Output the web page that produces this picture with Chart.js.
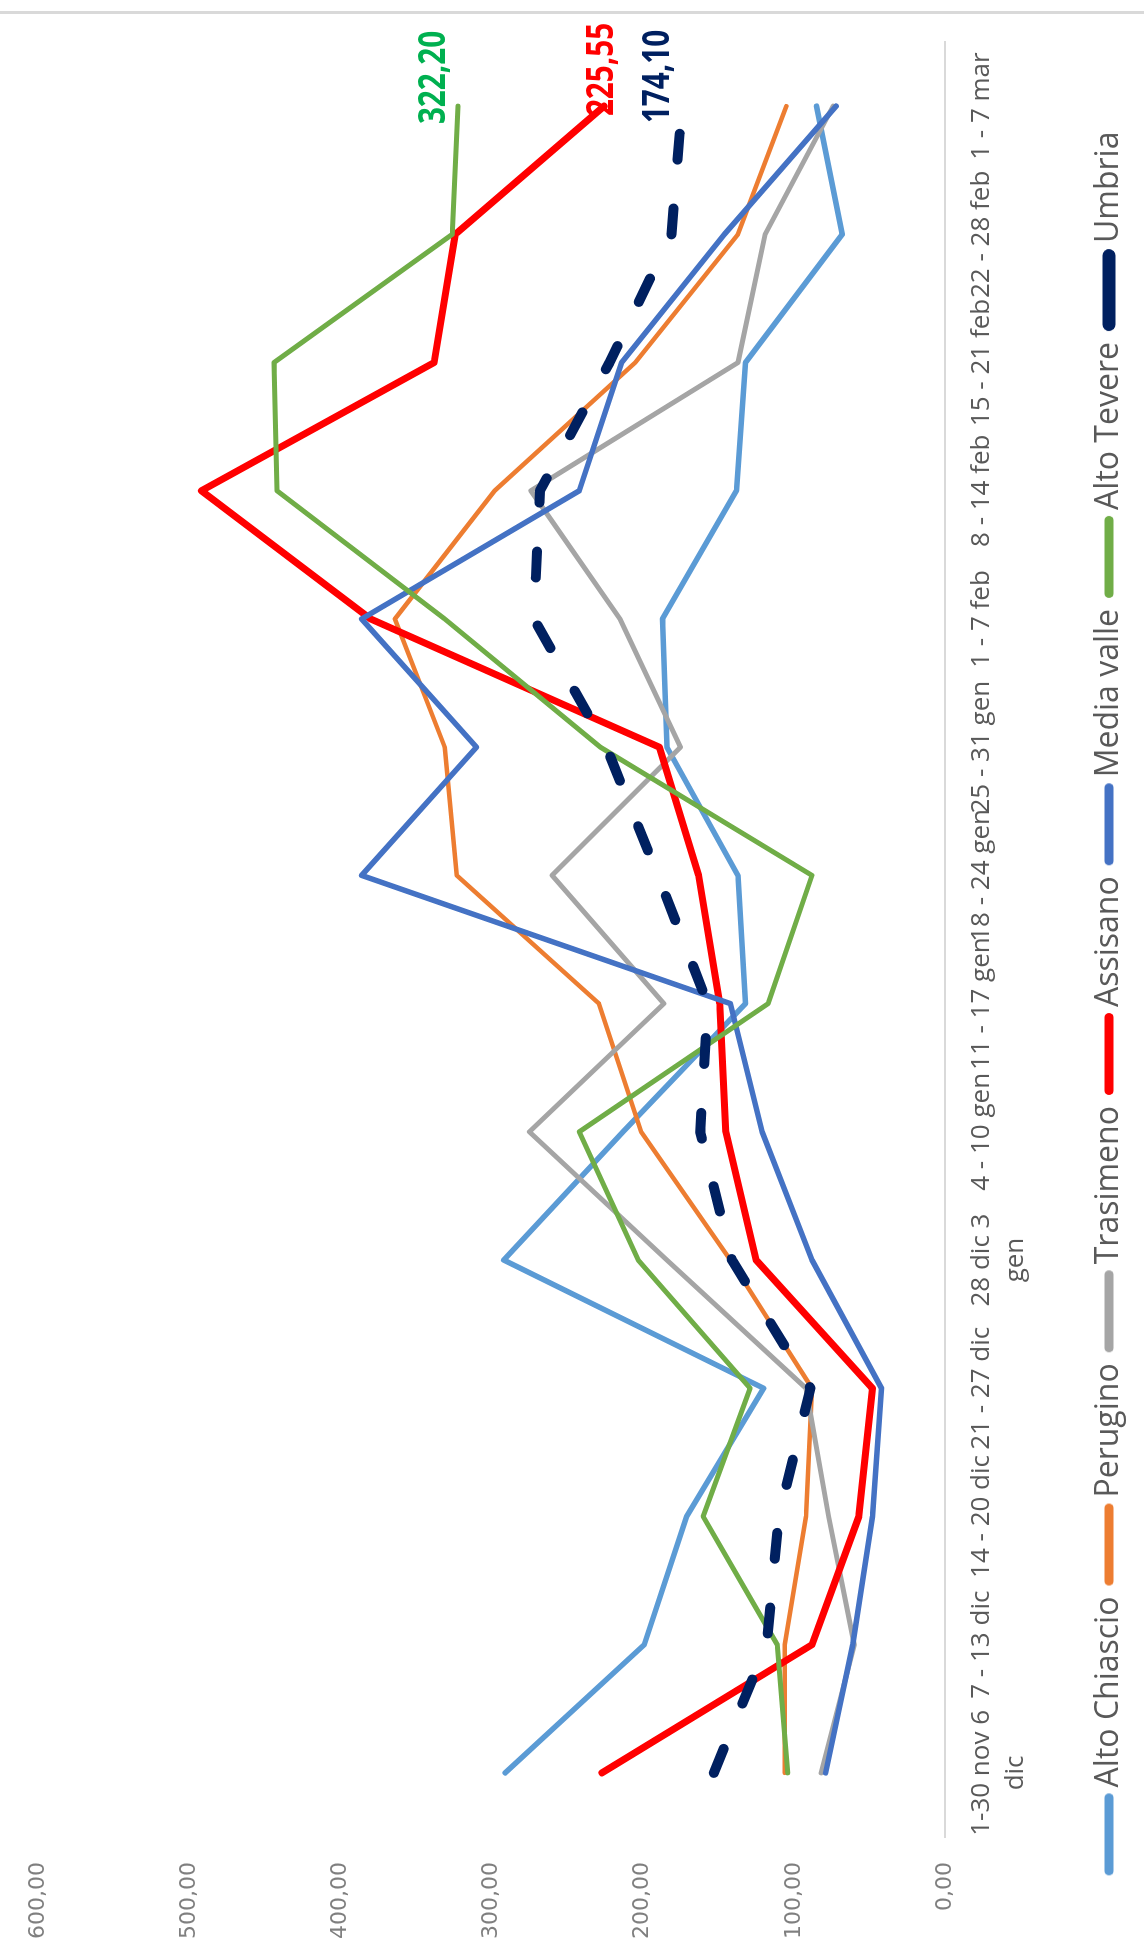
<!DOCTYPE html>
<html>
<head>
<meta charset="utf-8">
<script src="https://cdn.jsdelivr.net/npm/chart.js@4.4.1/dist/chart.umd.min.js"></script>
<style>
  html, body { margin: 0; padding: 0; background: #fff; width: 1144px; height: 1955px; overflow: hidden; }
  #frame { position: absolute; left: 0; right: 0; top: 11px; height: 3px; background: #d9d9d9; }
  #wrap {
    position: absolute; left: 0; top: 0; width: 1955px; height: 1144px;
    transform-origin: 0 0; transform: translateY(1955px) rotate(-90deg);
  }
</style>
</head>
<body>
<div id="frame"></div>
<div id="wrap"><canvas id="chart" width="1955" height="1144"></canvas></div>
<script>
// weeks (category axis)
const weeks = [
  ["1-30 nov 6", "dic"], "7 - 13 dic", "14 - 20 dic", "21 - 27 dic", ["28 dic 3", "gen"],
  "4 - 10 gen", "11 - 17 gen", "18 - 24 gen", "25 - 31 gen", "1 - 7 feb",
  "8 - 14 feb", "15 - 21 feb", "22 - 28 feb", "1 - 7 mar"
];

// values
const altoChiascio = [291, 199, 171, 120, 292, 213, 132, 137, 184, 187, 138, 132, 68, 85];
const perugino     = [106, 106, 92, 88, 142, 201, 229, 323, 331, 364, 298, 205, 137, 105];
const trasimeno    = [82, 60, 77, 92, 184, 275, 186, 260, 175, 215, 274, 137, 119, 74];
const assisano     = [227, 88, 57, 48, 125, 145, 149, 163, 189, 380, 492, 338, 324, 225.55];
const mediaValle   = [79, 61, 48, 42, 88, 121, 142, 386, 310, 386, 242, 214, 146, 72];
const altoTevere   = [104, 111, 160, 129, 203, 242, 117, 88, 228, 331, 442, 444, 326, 322.2];
const umbria       = [153, 118, 110, 89, 141, 162, 157, 190, 224, 272, 268, 222, 181, 174.1];

const yTicks = [0, 100, 200, 300, 400, 500, 600];

const fmt = (v) => v.toFixed(2).replace(".", ",");

function line(label, data, color, width) {
  return {
    label: label,
    data: data,
    borderColor: color,
    backgroundColor: color,
    borderWidth: width,
    borderCapStyle: "round",
    borderJoinStyle: "round",
    pointRadius: 0,
    tension: 0,
    fill: false
  };
}

// excel draws the last series on top, chart.js the first -> list them reversed
const datasets = [
  Object.assign(line("Umbria", umbria, "#002060", 10), { borderDash: [26, 49] }),
  line("Alto Tevere", altoTevere, "#70AD47", 5),
  line("Media valle", mediaValle, "#4472C4", 5.5),
  line("Assisano", assisano, "#FF0000", 7),
  line("Trasimeno", trasimeno, "#A5A5A5", 5),
  line("Perugino", perugino, "#ED7D31", 4.5),
  line("Alto Chiascio", altoChiascio, "#5B9BD5", 5.5)
];

// value labels on the last point of three series
const endLabels = [
  { label: "Alto Tevere", color: "#00B050", dx: -18, dy: -24 },
  { label: "Assisano", color: "#FF0000", dx: -10, dy: -2 },
  { label: "Umbria", color: "#002060", dx: -17, dy: -24 }
];

const endLabelPlugin = {
  id: "endLabels",
  afterDatasetsDraw(chart) {
    const ctx = chart.ctx;
    endLabels.forEach((l) => {
      const i = chart.data.datasets.findIndex((d) => d.label === l.label);
      const ds = chart.data.datasets[i];
      const last = ds.data.length - 1;
      const pt = chart.getDatasetMeta(i).data[last];
      ctx.save();
      ctx.translate(pt.x + l.dx, pt.y + l.dy);
      ctx.scale(0.78, 1); // narrow bold face like the original
      ctx.font = "bold 38px 'Open Sans'";
      ctx.textAlign = "left";
      ctx.textBaseline = "middle";
      ctx.fillStyle = l.color;
      ctx.fillText(fmt(ds.data[last]), 0, 0);
      ctx.restore();
    });
  }
};

// legend marker: short thick line with round ends
function marker(color, width) {
  const c = document.createElement("canvas");
  c.width = 84;
  c.height = 16;
  const g = c.getContext("2d");
  g.strokeStyle = color;
  g.lineWidth = width;
  g.lineCap = "round";
  g.beginPath();
  g.moveTo(width / 2 + 1, 8);
  g.lineTo(84 - width / 2 - 1, 8);
  g.stroke();
  return c;
}

// fixed legend height
const legendHeight = {
  id: "legendHeight",
  beforeInit(chart) {
    const fit = chart.legend.fit;
    chart.legend.fit = function () {
      fit.bind(chart.legend)();
      this.height = 72;
    };
  }
};

Chart.defaults.font.family = "'Open Sans'";
Chart.defaults.color = "#595959";

new Chart(document.getElementById("chart"), {
  type: "line",
  data: { labels: weeks, datasets: datasets },
  options: {
    responsive: false,
    animation: false,
    layout: { padding: { left: 0, right: 42, top: 25, bottom: 0 } },
    scales: {
      x: {
        offset: true,
        grid: { display: false, drawTicks: false },
        border: { display: true, color: "#d9d9d9", width: 2 },
        ticks: {
          autoSkip: false,
          maxRotation: 0,
          minRotation: 0,
          padding: 20,
          color: "#595959",
          font: { size: 26, lineHeight: 1.3 }
        },
        afterFit: (scale) => { scale.height = 127; }
      },
      y: {
        min: 0,
        max: 600,
        grid: { display: false, drawTicks: false },
        border: { display: false },
        afterBuildTicks: (scale) => { scale.ticks = yTicks.map((v) => ({ value: v })); },
        ticks: {
          padding: 25,
          color: "#7f7f7f",
          font: { family: "'DejaVu Sans'", size: 22 },
          callback: (v) => fmt(v)
        },
        afterFit: (scale) => { scale.width = 118; }
      }
    },
    plugins: {
      tooltip: { enabled: false },
      legend: {
        position: "bottom",
        reverse: true,
        labels: {
          usePointStyle: true,
          pointStyleWidth: 62,
          padding: 21,
          color: "#595959",
          font: { size: 32 },
          generateLabels(chart) {
            return Chart.defaults.plugins.legend.labels.generateLabels(chart).map((item) => {
              const ds = chart.data.datasets[item.datasetIndex];
              item.pointStyle = marker(ds.borderColor, ds.label === "Umbria" ? 13 : 9);
              return item;
            });
          }
        }
      }
    }
  },
  plugins: [endLabelPlugin, legendHeight]
});
</script>
</body>
</html>
